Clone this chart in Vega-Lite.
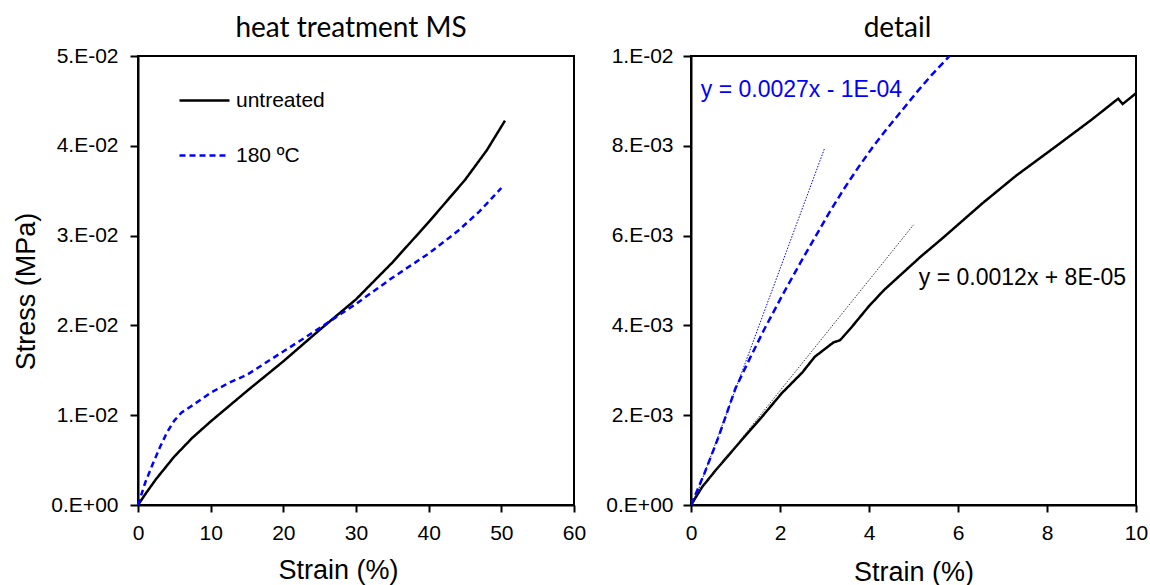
{
  "$schema": "https://vega.github.io/schema/vega-lite/v6.json",
  "background": "white",
  "padding": {"left": 11, "top": 14, "right": 10, "bottom": 5},
  "bounds": "flush",
  "spacing": 117,
  "config": {
    "font": "Liberation Sans",
    "view": {"stroke": "black", "strokeWidth": 2},
    "axis": {
      "domainColor": "black", "domainWidth": 2, "tickColor": "black", "tickWidth": 2,
      "grid": false, "labelFont": "Liberation Sans", "labelFontSize": 21, "labelColor": "black",
      "titleFont": "Liberation Sans", "titleFontSize": 27, "titleFontWeight": "normal", "titleColor": "black",
      "labelFlush": false, "labelOverlap": false
    },
    "title": {"font": "Lato", "fontSize": 28, "fontWeight": "normal", "color": "black", "offset": 2}
  },
  "resolve": {"scale": {"color": "independent", "strokeDash": "independent"}, "legend": {"color": "independent", "strokeDash": "independent"}},
  "datasets": {
    "main": [
      {"series": "untreated", "strain": 0, "stress": 0},
      {"series": "untreated", "strain": 1, "stress": 0.0012},
      {"series": "untreated", "strain": 2.5, "stress": 0.0029},
      {"series": "untreated", "strain": 5, "stress": 0.0054},
      {"series": "untreated", "strain": 7.5, "stress": 0.0075},
      {"series": "untreated", "strain": 10, "stress": 0.0093},
      {"series": "untreated", "strain": 12.5, "stress": 0.011},
      {"series": "untreated", "strain": 15, "stress": 0.0127},
      {"series": "untreated", "strain": 20, "stress": 0.016},
      {"series": "untreated", "strain": 25, "stress": 0.0195},
      {"series": "untreated", "strain": 30, "stress": 0.0229},
      {"series": "untreated", "strain": 35, "stress": 0.027},
      {"series": "untreated", "strain": 40, "stress": 0.0315},
      {"series": "untreated", "strain": 45, "stress": 0.0362},
      {"series": "untreated", "strain": 48, "stress": 0.0395},
      {"series": "untreated", "strain": 50.5, "stress": 0.0428},
      {"series": "180 ºC", "strain": 0, "stress": 0},
      {"series": "180 ºC", "strain": 1, "stress": 0.0025},
      {"series": "180 ºC", "strain": 2, "stress": 0.0045},
      {"series": "180 ºC", "strain": 3, "stress": 0.0064},
      {"series": "180 ºC", "strain": 4, "stress": 0.0081},
      {"series": "180 ºC", "strain": 5, "stress": 0.0094},
      {"series": "180 ºC", "strain": 6, "stress": 0.0103},
      {"series": "180 ºC", "strain": 7.5, "stress": 0.0111},
      {"series": "180 ºC", "strain": 10, "stress": 0.0125},
      {"series": "180 ºC", "strain": 12.5, "stress": 0.0136},
      {"series": "180 ºC", "strain": 15, "stress": 0.0145},
      {"series": "180 ºC", "strain": 20, "stress": 0.0171},
      {"series": "180 ºC", "strain": 25, "stress": 0.0197},
      {"series": "180 ºC", "strain": 30, "stress": 0.0224},
      {"series": "180 ºC", "strain": 35, "stress": 0.0253},
      {"series": "180 ºC", "strain": 40, "stress": 0.028},
      {"series": "180 ºC", "strain": 44, "stress": 0.0305},
      {"series": "180 ºC", "strain": 47, "stress": 0.0327},
      {"series": "180 ºC", "strain": 50, "stress": 0.0353}
    ],
    "detail": [
      {"series": "untreated", "strain": 0, "stress": 0},
      {"series": "untreated", "strain": 0.25, "stress": 0.0004},
      {"series": "untreated", "strain": 0.56, "stress": 0.00078},
      {"series": "untreated", "strain": 1.14, "stress": 0.00145},
      {"series": "untreated", "strain": 1.6, "stress": 0.00197},
      {"series": "untreated", "strain": 2.04, "stress": 0.00249},
      {"series": "untreated", "strain": 2.5, "stress": 0.00295},
      {"series": "untreated", "strain": 2.78, "stress": 0.0033},
      {"series": "untreated", "strain": 3.2, "stress": 0.00362},
      {"series": "untreated", "strain": 3.35, "stress": 0.00367},
      {"series": "untreated", "strain": 3.6, "stress": 0.00395},
      {"series": "untreated", "strain": 4.0, "stress": 0.00443},
      {"series": "untreated", "strain": 4.34, "stress": 0.00479},
      {"series": "untreated", "strain": 5.16, "stress": 0.00553},
      {"series": "untreated", "strain": 5.65, "stress": 0.00594},
      {"series": "untreated", "strain": 6.55, "stress": 0.00672},
      {"series": "untreated", "strain": 7.3, "stress": 0.00733},
      {"series": "untreated", "strain": 8.19, "stress": 0.00798},
      {"series": "untreated", "strain": 9.0, "stress": 0.00858},
      {"series": "untreated", "strain": 9.6, "stress": 0.00905},
      {"series": "untreated", "strain": 9.7, "stress": 0.00893},
      {"series": "untreated", "strain": 10, "stress": 0.00917},
      {"series": "180 ºC", "strain": 0, "stress": 0},
      {"series": "180 ºC", "strain": 0.3, "stress": 0.0007},
      {"series": "180 ºC", "strain": 0.62, "stress": 0.00152},
      {"series": "180 ºC", "strain": 1.0, "stress": 0.0026},
      {"series": "180 ºC", "strain": 1.33, "stress": 0.00328},
      {"series": "180 ºC", "strain": 1.65, "stress": 0.00392},
      {"series": "180 ºC", "strain": 2.08, "stress": 0.00472},
      {"series": "180 ºC", "strain": 2.45, "stress": 0.00538},
      {"series": "180 ºC", "strain": 2.78, "stress": 0.00595},
      {"series": "180 ºC", "strain": 3.1, "stress": 0.0065},
      {"series": "180 ºC", "strain": 3.43, "stress": 0.00703},
      {"series": "180 ºC", "strain": 3.76, "stress": 0.00752},
      {"series": "180 ºC", "strain": 4.09, "stress": 0.00798},
      {"series": "180 ºC", "strain": 4.42, "stress": 0.0084},
      {"series": "180 ºC", "strain": 4.75, "stress": 0.0088},
      {"series": "180 ºC", "strain": 5.08, "stress": 0.0092},
      {"series": "180 ºC", "strain": 5.4, "stress": 0.00957},
      {"series": "180 ºC", "strain": 5.81, "stress": 0.01}
    ],
    "trend": [
      {"fit": "180 ºC", "strain": 0.04, "stress": 0.0},
      {"fit": "180 ºC", "strain": 3.0, "stress": 0.00794},
      {"fit": "untreated", "strain": 0.0, "stress": 0.00008},
      {"fit": "untreated", "strain": 5.0, "stress": 0.00624}
    ],
    "notes": [
      {"fit": "180 ºC", "strain": 0.22, "stress": 0.00924, "label": "y = 0.0027x - 1E-04"},
      {"fit": "untreated", "strain": 5.12, "stress": 0.00506, "label": "y = 0.0012x + 8E-05"}
    ]
  },
  "hconcat": [
    {
      "width": 436,
      "height": 449,
      "title": {"text": "heat treatment MS", "dx": -5},
      "data": {"name": "main"},
      "mark": {"type": "line", "strokeWidth": 2.5},
      "encoding": {
        "x": {"field": "strain", "type": "quantitative", "scale": {"domain": [0, 60], "nice": false},
              "axis": {"values": [0, 10, 20, 30, 40, 50, 60], "title": "Strain (%)", "titlePadding": 14, "titleX": 200,
                       "tickSize": 7, "labelPadding": 10, "labelFontSize": 21, "labelFont": "Liberation Sans"}},
        "y": {"field": "stress", "type": "quantitative", "scale": {"domain": [0, 0.05], "nice": false},
              "axis": {"values": [0, 0.01, 0.02, 0.03, 0.04, 0.05], "title": "Stress (MPa)", "titlePadding": 10, "titleY": 235,
                       "tickSize": 8, "labelPadding": 12, "labelFontSize": 21, "labelFont": "Liberation Sans",
                       "labelExpr": "datum.value == 0 ? '0.E+00' : round(datum.value*100) + '.E-02'"}},
        "color": {"field": "series", "type": "nominal",
                  "scale": {"domain": ["untreated", "180 ºC"], "range": ["black", "#0000ff"]},
                  "legend": {"orient": "none", "legendX": 40, "legendY": 18, "title": null, "symbolType": "stroke",
                             "symbolSize": 2500, "symbolStrokeWidth": 2.5, "labelFontSize": 21, "labelColor": "black",
                             "labelFont": "Liberation Sans", "rowPadding": 18, "labelOffset": 5, "padding": 0}},
        "strokeDash": {"field": "series", "type": "nominal",
                       "scale": {"domain": ["untreated", "180 ºC"], "range": [[1, 0], [6, 4]]},
                       "legend": {"orient": "none", "legendX": 40, "legendY": 18, "title": null, "symbolType": "stroke",
                                  "symbolSize": 2500, "symbolStrokeWidth": 2.5, "labelFontSize": 21, "labelColor": "black",
                                  "labelFont": "Liberation Sans", "rowPadding": 18, "labelOffset": 5, "padding": 0}}
      }
    },
    {
      "width": 445,
      "height": 449,
      "title": {"text": "detail", "dx": -16},
      "layer": [
        {
          "data": {"name": "detail"},
          "mark": {"type": "line", "strokeWidth": 2.5, "clip": true},
          "encoding": {
            "x": {"field": "strain", "type": "quantitative", "scale": {"domain": [0, 10], "nice": false},
                  "axis": {"values": [0, 2, 4, 6, 8, 10], "title": "Strain (%)", "titlePadding": 16,
                           "tickSize": 7, "labelPadding": 10, "labelFontSize": 21, "labelFont": "Liberation Sans"}},
            "y": {"field": "stress", "type": "quantitative", "scale": {"domain": [0, 0.01], "nice": false},
                  "axis": {"values": [0, 0.002, 0.004, 0.006, 0.008, 0.01], "title": null,
                           "tickSize": 8, "labelPadding": 10, "labelFontSize": 21, "labelFont": "Liberation Sans",
                           "labelExpr": "datum.value == 0 ? '0.E+00' : (datum.value > 0.0095 ? '1.E-02' : round(datum.value*1000) + '.E-03')"}},
            "color": {"field": "series", "type": "nominal",
                      "scale": {"domain": ["untreated", "180 ºC"], "range": ["black", "#0000ff"]}, "legend": null},
            "strokeDash": {"field": "series", "type": "nominal",
                           "scale": {"domain": ["untreated", "180 ºC"], "range": [[1, 0], [7, 4]]}, "legend": null}
          }
        },
        {
          "data": {"name": "trend"},
          "transform": [{"filter": "datum.fit == '180 ºC'"}],
          "mark": {"type": "line", "strokeWidth": 1, "strokeDash": [1.5, 1.5], "color": "#0000ff"},
          "encoding": {
            "x": {"field": "strain", "type": "quantitative"},
            "y": {"field": "stress", "type": "quantitative"}
          }
        },
        {
          "data": {"name": "trend"},
          "transform": [{"filter": "datum.fit == 'untreated'"}],
          "mark": {"type": "line", "strokeWidth": 1, "strokeDash": [1.5, 1.5], "color": "#333333"},
          "encoding": {
            "x": {"field": "strain", "type": "quantitative"},
            "y": {"field": "stress", "type": "quantitative"}
          }
        },
        {
          "data": {"name": "notes"},
          "transform": [{"filter": "datum.fit == '180 ºC'"}],
          "mark": {"type": "text", "align": "left", "baseline": "middle", "fontSize": 23, "font": "Liberation Sans", "color": "#0000ff"},
          "encoding": {
            "x": {"field": "strain", "type": "quantitative"},
            "y": {"field": "stress", "type": "quantitative"},
            "text": {"field": "label"}
          }
        },
        {
          "data": {"name": "notes"},
          "transform": [{"filter": "datum.fit == 'untreated'"}],
          "mark": {"type": "text", "align": "left", "baseline": "middle", "fontSize": 23, "font": "Liberation Sans", "color": "black"},
          "encoding": {
            "x": {"field": "strain", "type": "quantitative"},
            "y": {"field": "stress", "type": "quantitative"},
            "text": {"field": "label"}
          }
        }
      ]
    }
  ]
}
